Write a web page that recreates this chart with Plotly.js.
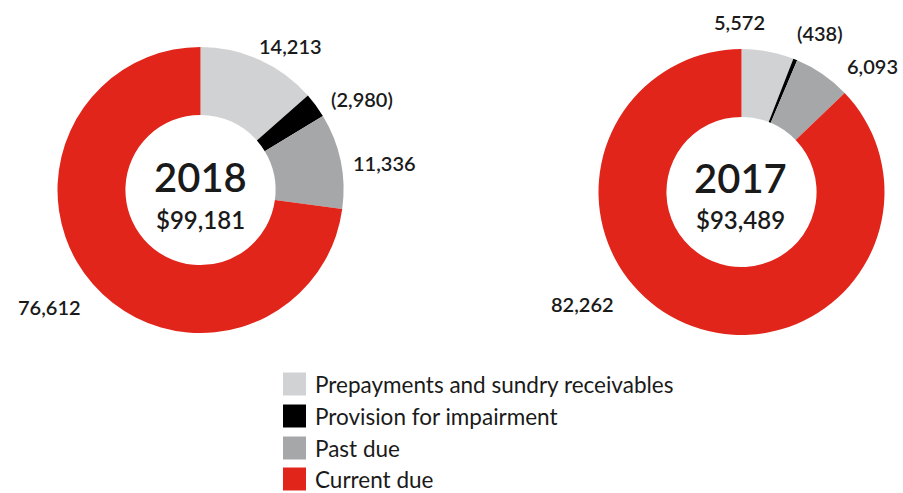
<!DOCTYPE html>
<html>
<head>
<meta charset="utf-8">
<script src="https://cdn.plot.ly/plotly-3.0.1.min.js"></script>
<style>html,body{margin:0;padding:0;background:#fff}#chart{width:903px;height:493px}</style>
</head>
<body>
<div id="chart"></div>
<script>
const categories = ["Prepayments and sundry receivables", "Provision for impairment", "Past due", "Current due"];
const colors = ["#d1d2d4", "#000000", "#a6a7a9", "#e1251b"];
const values2018 = [14213, -2980, 11336, 76612];
const values2017 = [5572, -438, 6093, 82262];
const labels2018 = ["14,213", "(2,980)", "11,336", "76,612"];
const labels2017 = ["5,572", "(438)", "6,093", "82,262"];
const years = ["2018", "2017"];
const totals = ["$99,181", "$93,489"];

const W = 903, H = 493;
const px = x => x / W;
const py = y => 1 - y / H;

const FONT = "Lato, Open Sans, sans-serif";
const TXT = "#1a1a1a";

function pie(vals, cx, cy, r) {
  return {
    type: "pie",
    labels: categories,
    values: vals.map(Math.abs),
    sort: false,
    direction: "clockwise",
    rotation: 0,
    hole: 0.525,
    textinfo: "none",
    hoverinfo: "skip",
    showlegend: false,
    marker: {colors: colors, line: {width: 0}},
    domain: {x: [px(cx - r), px(cx + r)], y: [py(cy + r), py(cy - r)]}
  };
}

const data = [
  pie(values2018, 200.5, 190, 143),
  pie(values2017, 741.5, 192, 143)
];

const annotations = [];
function ann(text, x, y, size, weight) {
  annotations.push({text: text, x: px(x), y: py(y), xref: "paper", yref: "paper",
    showarrow: false, xanchor: "center", yanchor: "middle",
    font: {family: FONT, size: size, color: TXT, weight: weight || 400}});
}
// value labels
const pos2018 = [[290, 46], [362, 99], [384, 163], [49, 307]];
const pos2017 = [[739, 22], [820, 33], [872, 66], [582, 304]];
labels2018.forEach((t, i) => ann(t, pos2018[i][0], pos2018[i][1], 20, 600));
labels2017.forEach((t, i) => ann(t, pos2017[i][0], pos2017[i][1], 20, 600));
// centre text
ann(years[0], 200, 177, 40, 600);
ann(totals[0], 200, 219, 24, 600);
ann(years[1], 740, 178, 40, 600);
ann(totals[1], 740, 219, 24, 600);

// legend
const shapes = [];
const legY = [384, 416, 448, 479];
categories.forEach((c, i) => {
  shapes.push({type: "rect", xref: "paper", yref: "paper",
    x0: px(283), x1: px(306), y0: py(legY[i] + 11.5), y1: py(legY[i] - 11.5),
    fillcolor: colors[i], line: {width: 0}});
  annotations.push({text: c, x: px(313), y: py(legY[i]), xref: "paper", yref: "paper",
    showarrow: false, xanchor: "left", yanchor: "middle",
    font: {family: FONT, size: 22.5, color: TXT}});
});

const layout = {
  width: W, height: H,
  margin: {l: 0, r: 0, t: 0, b: 0},
  paper_bgcolor: "#ffffff",
  showlegend: false,
  annotations: annotations,
  shapes: shapes
};

Plotly.newPlot("chart", data, layout, {displayModeBar: false, staticPlot: true});
</script>
</body>
</html>
